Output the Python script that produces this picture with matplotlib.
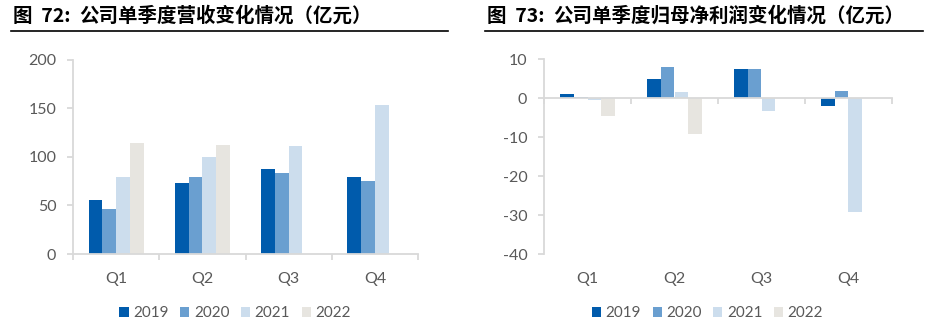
import matplotlib
matplotlib.use("Agg")
from matplotlib import pyplot as plt
from matplotlib import transforms
import numpy as np

plt.rcParams['font.family'] = ['Lato', 'Noto Sans CJK SC', 'DejaVu Sans']
plt.rcParams['axes.unicode_minus'] = False

quarters = ['Q1', 'Q2', 'Q3', 'Q4']
years = ['2019', '2020', '2021', '2022']
colors = ['#005BAC', '#6A9FD0', '#CCDDED', '#E7E5E0']

# 营收 (亿元), None = no data
revenue = {
    '2019': [56, 73.3, 87, 78.8],
    '2020': [46.6, 78.8, 83.2, 75],
    '2021': [78.8, 99.7, 111.3, 153],
    '2022': [114, 112.3, None, None],
}
# 归母净利润 (亿元)
profit = {
    '2019': [1.2, 4.9, 7.6, -2.0],
    '2020': [0.4, 8.0, 7.6, 2.0],
    '2021': [-0.4, 1.7, -3.3, -29.3],
    '2022': [-4.5, -9.2, None, None],
}

fig_left = '图  72:'
title_left = '公司单季度营收变化情况（亿元）'
fig_right = '图  73:'
title_right = '公司单季度归母净利润变化情况（亿元）'

grey = '#595959'
spine_col = '#D9D9D9'
barW = 0.16

fig = plt.figure(figsize=(9.25, 3.23), dpi=100)


def draw_bars(ax, data):
    x = np.arange(len(quarters))
    for k, yr in enumerate(years):
        vals = [np.nan if v is None else v for v in data[yr]]
        ax.bar(x + (k - 1.5) * barW, vals, barW, color=colors[k], label=yr, zorder=2)
    ax.set_xlim(-0.5, len(quarters) - 0.5)
    ax.set_xticks(np.arange(len(quarters) + 1) - 0.5)
    ax.set_xticklabels([])
    for s in ['top', 'right']:
        ax.spines[s].set_visible(False)
    for s in ['left', 'bottom']:
        ax.spines[s].set_color(spine_col)
        ax.spines[s].set_linewidth(1.3)
    ax.tick_params(axis='x', direction='out', length=4, width=1.3, color=spine_col)
    ax.tick_params(axis='y', direction='out', length=4, width=1.3, color=spine_col,
                   labelcolor=grey, labelsize=11.5, pad=8)
    # category labels at bottom
    trans = transforms.blended_transform_factory(ax.transData, ax.transAxes)
    for i, q in enumerate(quarters):
        ax.text(i, -0.13, q, transform=trans, ha='center', va='center',
                color=grey, fontsize=11.5)
    ax.legend(loc='center', bbox_to_anchor=(0.47, -0.305), ncol=4, frameon=False,
              handlelength=0.6, handleheight=0.6, handletextpad=0.3,
              columnspacing=0.75, labelcolor=grey, fontsize=11)


def draw_title(x0, x1, xbody, num, text):
    cjk = ['Noto Sans CJK SC', 'DejaVu Sans']
    y = 1 - 16 / 323
    fig.text(x0 + 2 / 925, y, num, ha='left', va='center',
             fontsize=14, fontweight='bold', family=cjk)
    fig.text(xbody, y, text, ha='left', va='center',
             fontsize=14, fontweight='bold', family=cjk)
    fig.add_artist(plt.Line2D([x0, x1], [1 - 31 / 323] * 2, color='black', lw=1.2))


# left chart
ax1 = fig.add_axes([73 / 925, 69 / 323, 345 / 925, 194.5 / 323])
draw_bars(ax1, revenue)
ax1.set_ylim(0, 200)
ax1.set_yticks([0, 50, 100, 150, 200])
draw_title(11 / 925, 448 / 925, 79 / 925, fig_left, title_left)

# right chart
ax2 = fig.add_axes([544 / 925, 69 / 323, 348 / 925, 194.5 / 323])
draw_bars(ax2, profit)
ax2.set_ylim(-40, 10)
ax2.set_yticks([10, 0, -10, -20, -30, -40])
ax2.spines['bottom'].set_position(('data', 0))
draw_title(485 / 925, 923 / 925, 553 / 925, fig_right, title_right)

plt.savefig('out.png', dpi=100)
